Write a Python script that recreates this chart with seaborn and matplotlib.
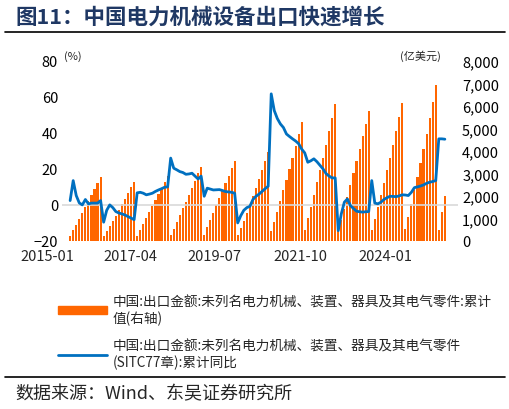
import matplotlib
matplotlib.use("Agg")
import matplotlib.pyplot as plt
import seaborn as sns
import numpy as np
import pandas as pd
from matplotlib.lines import Line2D
from matplotlib.patches import Patch

sns.set_theme(style="white")
plt.rcParams['font.family'] = ['Noto Sans CJK SC', 'DejaVu Sans']

bars = [240,480,720,980,1250,1500,1780,2050,2300,2580,2860,
        200,420,650,880,1120,1380,1620,1870,2120,2380,2640,
        230,480,740,1000,1280,1550,1800,2080,2350,2630,2900,
        270,550,850,1150,1450,1750,2050,2350,2680,3000,3300,
        280,600,920,1250,1580,1900,2230,2560,2900,3230,3570,
        260,560,900,1250,1620,1980,2350,2730,3130,3540,3950,
        420,860,1300,1780,2250,2720,3200,3700,4220,4750,5280,
        480,1000,1520,2060,2600,3150,3700,4270,4880,5480,6090,
        450,940,1440,1950,2470,3000,3550,4100,4650,5200,5760,
        470,980,1500,2030,2570,3130,3700,4270,4880,5500,6120,
        520,1080,1650,2250,2850,3470,4100,4760,5450,6180,6950,
        500,1275,2013]
yoy = [2.4,13.5,5.2,1.1,0,3,0.6,1,1,1,2.4,
       -9.6,-3,0,-1.5,-3.7,-4.5,-5,-5.6,-6.5,-7.3,-8.2,
       6.7,7,6.5,5.6,6,6.5,7.5,8.3,9,9.8,10,
       26,20.4,19.5,18.5,18,17,17.2,17.6,16,14.4,16,
       4.8,9.3,8.8,8.3,8.4,8.5,8,7.4,7.2,7,6.5,
       -10,-6,-3,-1.5,-0.8,3,4.8,6,7.5,9,10.4,
       61.7,52.4,48,45,43,39.4,38,36.7,35.5,34,31,
       28.9,23.7,24.5,25.6,24,22,20,17.4,16,15,15,
       -14.3,-5,1.5,3.3,-0.4,-2,-3.5,-3.8,-4,-3.8,-3.7,
       13.5,1,0.6,1.5,3,4,4.8,4.7,4.6,5,5.6,
       5.5,5.2,7,9.6,10,10.5,11.1,12,12.6,13,13.5,
       36.7,36.7,36.5]
tick_labels = ["2015-01","2017-04","2019-07","2021-10","2024-01"]
tick_pos = [-7.5, 19.7, 47.5, 75.7, 103.6]

df = pd.DataFrame({"i": np.arange(len(bars)), "bar": bars, "yoy": yoy})

fig = plt.figure(figsize=(5.1, 4.1), dpi=100)
ax = fig.add_axes([0.122, 0.41, 0.776, 0.439])
ax2 = ax.twinx()
ax.set_zorder(2); ax.patch.set_visible(False)

ax2.bar(df["i"], df["bar"], width=0.7, color="#FF6600", edgecolor="none")
ax.axhline(0, color="#d9d9d9", lw=1.2, zorder=1)
sns.lineplot(data=df, x="i", y="yoy", ax=ax, color="#0070C0", lw=2, legend=False)

ax.set_xlim(-2.6, 127.3)
ax.set_ylim(-20, 80)
ax2.set_ylim(0, 8000)
ax.set_yticks([-20, 0, 20, 40, 60, 80])
ax2.set_yticks(range(0, 8001, 1000))
ax2.set_yticklabels([f"{v:,}" for v in range(0, 8001, 1000)])
ax.set_xticks([])
for p, l in zip(tick_pos, tick_labels):
    ax.text(p, -0.045, l, transform=ax.get_xaxis_transform(), ha="center", va="top",
            fontsize=10.5, clip_on=False)
for a in (ax, ax2):
    for s in a.spines.values():
        s.set_visible(False)
    a.tick_params(length=0, labelsize=10.5, colors="black", pad=3)
ax.set_xlabel(""); ax.set_ylabel("")

fig.text(0.125, 0.855, "(%)", fontsize=8)
fig.text(0.785, 0.853, "(亿美元)", fontsize=8)

fig.text(0.03, 0.958, "图11：中国电力机械设备出口快速增长", fontsize=15.5, fontweight="bold",
         color="#1F3864", va="center")
fig.add_artist(Line2D([0.01, 0.99], [0.92, 0.92], color="black", lw=1.2))
fig.add_artist(Line2D([0.01, 0.99], [0.078, 0.078], color="black", lw=1.2))
fig.text(0.03, 0.038, "数据来源：Wind、东吴证券研究所", fontsize=13, va="center")

handles = [Patch(color="#FF6600"), Line2D([0], [0], color="#0070C0", lw=2)]
labels = ["中国:出口金额:未列名电力机械、装置、器具及其电气零件:累计\n值(右轴)",
          "中国:出口金额:未列名电力机械、装置、器具及其电气零件\n(SITC77章):累计同比"]
fig.legend(handles, labels, loc="upper left", bbox_to_anchor=(0.09, 0.31), frameon=False,
           fontsize=9.8, handlelength=3.6, labelspacing=1.0, handleheight=0.5,
           handletextpad=0.4)

fig.savefig("out.png", dpi=100)
